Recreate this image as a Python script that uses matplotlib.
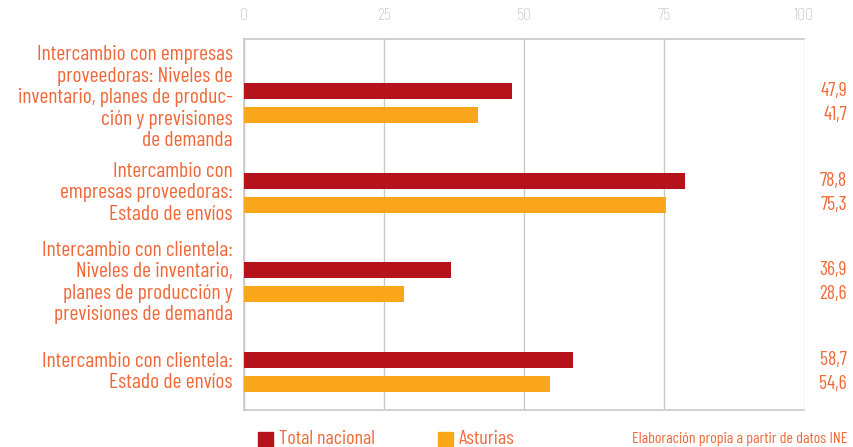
import matplotlib.pyplot as plt
from matplotlib.patches import Rectangle
import numpy as np

categorias = [
    "Intercambio con empresas\nproveedoras: Niveles de\ninventario, planes de produc-\nción y previsiones\nde demanda",
    "Intercambio con\nempresas proveedoras:\nEstado de envíos",
    "Intercambio con clientela:\nNiveles de inventario,\nplanes de producción y\nprevisiones de demanda",
    "Intercambio con clientela:\nEstado de envíos",
]
total_nacional = [47.9, 78.8, 36.9, 58.7]
asturias = [41.7, 75.3, 28.6, 54.6]
series = ["Total nacional", "Asturias"]
ticks = [0, 25, 50, 75, 100]

ROJO = "#b5121b"
NARANJA = "#f9a61b"
TEXTO = "#f0693a"
GRIS = "#c8c8c8"

plt.rcParams['font.family'] = ['Barlow Condensed', 'Roboto Condensed', 'DejaVu Sans']

fig = plt.figure(figsize=(8.54, 4.47), dpi=100)
ax = fig.add_axes([244 / 854, 1 - 410 / 447, 560 / 854, 371 / 447])

n = len(categorias)
y = np.arange(n)
off = 0.134
h = 0.178
ax.barh(y - off, total_nacional, height=h, color=ROJO, zorder=3)
ax.barh(y + off, asturias, height=h, color=NARANJA, zorder=3)

ax.set_xlim(0, 100)
ax.set_ylim(n - 0.576, -0.714)
ax.set_xticks(ticks)
ax.xaxis.tick_top()
ax.tick_params(axis='x', length=0, pad=11, labelcolor="#b8b8b8", labelsize=13)
for lbl in ax.get_xticklabels():
    lbl.set_fontweight('light')
ax.set_yticks([])
ax.grid(axis='x', color=GRIS, linewidth=1, zorder=0)
for s in ["top", "bottom", "left"]:
    ax.spines[s].set_color(GRIS)
    ax.spines[s].set_linewidth(1.2)
ax.spines["right"].set_visible(False)

for i, cat in enumerate(categorias):
    # la etiqueta larga del primer grupo queda algo más arriba en el original
    dy = -0.06 if i == 0 else 0.0
    ax.text(-0.02, i + dy, cat, transform=ax.get_yaxis_transform(), ha='right', va='center',
            color=TEXTO, fontsize=15.5, linespacing=1.16)
    ax.text(1.077, i - off, f"{total_nacional[i]:.1f}".replace(".", ","),
            transform=ax.get_yaxis_transform(), ha='right', va='center', color=TEXTO, fontsize=14)
    ax.text(1.077, i + off, f"{asturias[i]:.1f}".replace(".", ","),
            transform=ax.get_yaxis_transform(), ha='right', va='center', color=TEXTO, fontsize=14)

# leyenda
for x0, col, lab in [(258, ROJO, series[0]), (438, NARANJA, series[1])]:
    fig.patches.append(Rectangle((x0 / 854, 1 - 447 / 447), 15 / 854, 15 / 447,
                                 transform=fig.transFigure, color=col))
    fig.text((x0 + 21) / 854, 1 - 439 / 447, lab, ha='left', va='center',
             color=TEXTO, fontsize=14.5)
fig.text(848 / 854, 1 - 439 / 447, "Elaboración propia a partir de datos INE",
         ha='right', va='center', color=TEXTO, fontsize=11.5)

fig.savefig("out.png", dpi=100)
